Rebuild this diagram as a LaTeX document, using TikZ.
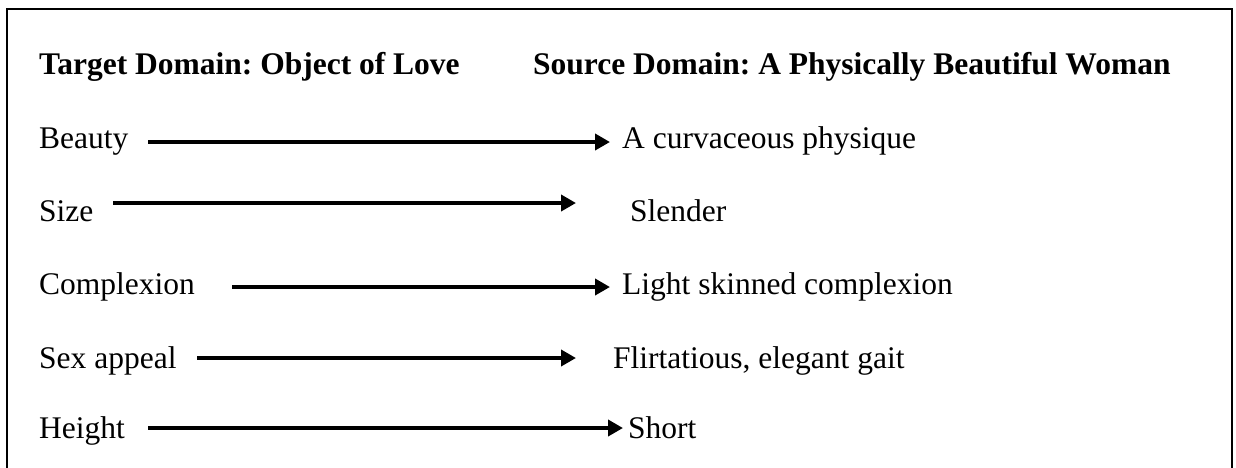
\documentclass[tikz,border=0pt]{standalone}
\usepackage{fontspec}
\setmainfont{Liberation Serif}
\usetikzlibrary{arrows.meta}
\frenchspacing
\begin{document}
\begin{tikzpicture}[x=1pt,y=-1pt,
  lbl/.style={anchor=base west,inner sep=0pt,font=\fontsize{31.5}{36}\selectfont},
  ttl/.style={lbl,font=\fontsize{31.5}{36}\selectfont\bfseries},
  maparrow/.style={line width=4pt,-{Triangle[length=15pt,width=16pt]}}]
\useasboundingbox (0,0) rectangle (1236,467);
\clip (0,0) rectangle (1236,467);
\draw[line width=2pt] (7,9) rectangle (1232,500);
\node[ttl] (t1) at (39,74) {Target Domain: Object of Love};
\node[ttl] (t2) at (533,74) {Source Domain: A Physically Beautiful Woman};
\node[lbl] (l1) at (39,148) {Beauty};
\node[lbl] (l2) at (39,221) {Size};
\node[lbl] (l3) at (39,294) {Complexion};
\node[lbl] (l4) at (39,368) {Sex appeal};
\node[lbl] (l5) at (39,438) {Height};
\node[lbl] (r1) at (622,148) {A curvaceous physique};
\node[lbl] (r2) at (630,221) {Slender};
\node[lbl] (r3) at (622,294) {Light skinned complexion};
\node[lbl] (r4) at (613,368) {Flirtatious, elegant gait};
\node[lbl] (r5) at (628,438) {Short};
\coordinate (a1) at (148,142); \coordinate (b1) at (610,142);
\coordinate (a2) at (113,203); \coordinate (b2) at (576,203);
\coordinate (a3) at (232,287); \coordinate (b3) at (610,287);
\coordinate (a4) at (197,358); \coordinate (b4) at (576,358);
\coordinate (a5) at (148,428); \coordinate (b5) at (623,428);
\draw[maparrow] (a1) -- (b1);
\draw[maparrow] (a2) -- (b2);
\draw[maparrow] (a3) -- (b3);
\draw[maparrow] (a4) -- (b4);
\draw[maparrow] (a5) -- (b5);
\end{tikzpicture}
\end{document}
